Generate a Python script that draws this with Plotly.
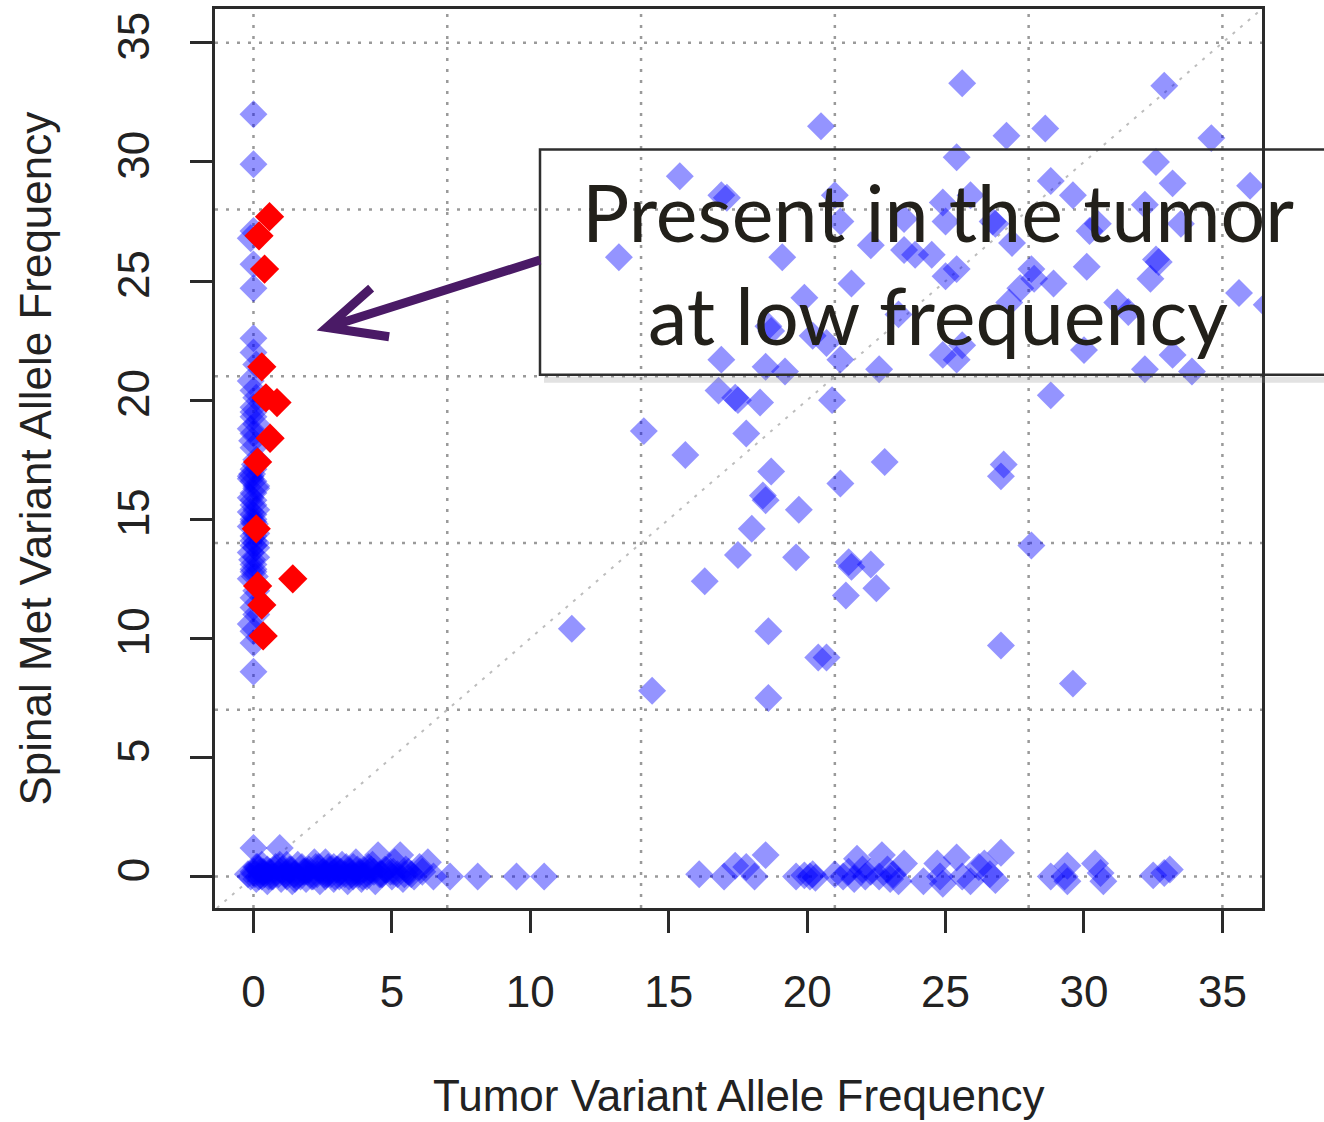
import plotly.graph_objects as go

# ---- data: variant allele frequencies (%) ----
# mutations shared by tumor and spinal metastasis
shared_tumor = [25.6, 32.9, 20.5, 27.2, 28.6, 34.6, 25.4, 32.6, 15.4, 33.2, 36.0, 28.8,
                16.9, 17.1, 21.0, 25.9, 29.6, 24.9, 32.2, 23.5, 21.2, 25.0, 26.7, 26.8,
                30.5, 30.2, 33.5, 27.4, 22.3, 23.5, 23.9, 24.5, 13.2, 19.1, 32.6, 32.7,
                30.1, 25.4, 28.1, 25.0, 28.2, 32.4, 21.6, 28.9, 27.7, 35.6, 19.9, 27.3,
                31.2, 36.6, 31.6, 23.3, 18.6, 18.7, 20.2, 20.7, 25.6, 30.0, 24.9, 33.2,
                16.9, 21.2, 25.4, 18.5, 22.6, 32.2, 19.2, 33.9,
                16.8, 17.4, 17.5, 18.3, 20.9, 28.8, 14.1, 17.8, 15.6, 22.8, 27.1, 27.0,
                18.7, 21.2, 18.4, 18.5, 19.7, 18.0, 28.1, 17.5, 19.6, 21.5, 21.6, 22.3,
                16.3, 22.5, 21.4, 11.5, 18.6, 27.0, 20.4, 20.7, 29.6, 14.4, 18.6]
shared_met = [33.3, 33.2, 31.5, 31.1, 31.4, 31.0, 30.2, 30.0, 29.4, 29.1, 29.0, 29.2,
              28.6, 28.5, 28.6, 28.6, 28.6, 28.3, 28.2, 27.6, 27.5, 27.5, 27.5, 27.4,
              27.4, 27.1, 27.4, 26.6, 26.5, 26.3, 26.1, 26.1, 26.0, 26.0, 25.9, 25.8,
              25.6, 25.5, 25.5, 25.2, 25.1, 25.1, 24.9, 24.9, 24.7, 24.5, 24.3, 24.1,
              24.1, 24.0, 23.7, 23.6, 23.1, 22.9, 22.7, 22.4, 22.3, 22.1, 21.9, 21.9,
              21.7, 21.7, 21.7, 21.4, 21.3, 21.3, 21.2, 21.2,
              20.4, 20.1, 20.0, 19.9, 20.0, 20.2, 18.7, 18.6, 17.7, 17.4, 17.3, 16.8,
              17.0, 16.5, 16.0, 15.8, 15.4, 14.6, 13.9, 13.5, 13.4, 13.2, 13.0, 13.1,
              12.4, 12.1, 11.8, 10.4, 10.3, 9.7, 9.2, 9.2, 8.1, 7.8, 7.5]

# tumor-only mutations (met VAF ~ 0)
tumor_only_tumor = [-0.1, 0.0, 0.1, 0.2, 0.3, 0.4, 0.5, 0.6, 0.7, 0.8, 0.9, 1.0, 1.1, 1.2,
                    1.3, 1.4, 1.5, 1.6, 1.7, 1.8, 1.9, 2.0, 2.1, 2.2, 2.3, 2.4, 2.5, 2.6,
                    2.7, 2.8, 2.9, 3.0, 3.1, 3.2, 3.3, 3.4, 3.5, 3.6, 3.7, 3.8, 3.9, 4.0,
                    4.1, 4.2, 4.4, 4.5, 4.6, 4.8, 5.0, 5.1, 5.3, 5.4, 5.6, 5.8, 6.0, 6.3,
                    6.5, 0.0, 0.95, 0.3, 1.2, 2.6, 0.5, 1.5, 2.9, 3.6, 4.3, 0.2, 0.1, 0.05,
                    -0.2, 0.15, 0.35, 0.55, 0.75, 0.95, 1.15, 1.35, 1.55, 1.75, 1.95, 2.15,
                    2.35, 2.55, 2.75, 2.95, 3.15, 3.35, 3.55, 3.75, 3.95, 4.15, 4.35, 4.55,
                    4.75, 4.95, 5.2, 5.5, 5.7, 6.1, 0.25, 0.65, 1.05, 1.45, 1.85, 2.25,
                    2.65, 3.05, 3.45, 3.85, 4.25, 4.65, 5.05, 5.45,
                    7.1, 8.1, 9.5, 10.5,
                    16.1, 17.0, 17.4, 17.8, 18.1, 18.5, 19.6, 19.9, 20.1, 20.3, 20.2, 21.3,
                    21.8, 22.1, 21.7, 22.7, 22.6, 23.1, 23.5, 23.3, 22.3, 24.2, 24.7, 24.8,
                    24.9, 25.4, 25.6, 25.9, 26.2, 26.4, 26.6, 27.0, 26.8, 28.8, 29.4, 29.3,
                    29.4, 30.4, 30.6, 30.7, 32.5, 32.9, 33.1, 21.0, 22.0, 23.0, 21.5, 22.9]
tumor_only_met = [0.0, 0.2, -0.1, 0.3, 0.0, 0.1, -0.2, 0.2, 0.0, 0.4, 0.1, -0.1, 0.2, 0.0,
                  0.3, -0.2, 0.1, 0.5, 0.0, 0.2, -0.1, 0.3, 0.0, 0.6, 0.1, -0.2, 0.2, 0.0,
                  0.4, 0.1, -0.1, 0.3, 0.0, 0.5, 0.1, -0.2, 0.2, 0.0, 0.6, 0.1, -0.1, 0.3,
                  0.0, 0.2, -0.2, 0.9, 0.1, 0.3, 0.0, 0.6, 0.9, -0.1, 0.2, 0.0, 0.4, 0.6,
                  0.0, 1.2, 1.2, 0.5, 0.5, 0.6, 0.3, -0.1, 0.4, 0.4, 0.5, 0.0, 0.4, 0.1,
                  0.1, 0.4, 0.2, 0.0, 0.3, 0.5, 0.1, 0.3, 0.0, 0.4, 0.2, 0.0,
                  0.4, 0.1, 0.3, 0.0, 0.2, 0.4, 0.1, 0.3, 0.0, 0.4, 0.2, 0.1,
                  0.3, 0.2, 0.1, 0.3, 0.1, 0.2, 0.2, 0.0, 0.3, 0.1, 0.2, 0.4,
                  0.1, 0.3, 0.0, 0.2, 0.3, 0.1, 0.2, 0.1,
                  0.0, 0.0, 0.0, 0.0,
                  0.1, 0.0, 0.45, 0.4, 0.0, 0.9, 0.0, 0.05, 0.0, -0.05, 0.1, 0.0,
                  0.75, 0.0, -0.1, 0.9, 0.0, 0.1, 0.55, -0.2, 0.2, -0.2, 0.55, 0.0,
                  -0.3, 0.8, 0.0, -0.2, 0.4, 0.55, 0.1, 1.0, -0.15, 0.0, 0.45, 0.0,
                  -0.2, 0.55, 0.15, -0.2, 0.05, 0.15, 0.3, 0.1, 0.3, -0.1, 0.2, 0.3]

# met-only mutations (tumor VAF ~ 0)
met_only_tumor = [0.0, 0.0, 0.0, -0.1, 0.0, 0.0, 0.0, 0.0, 0.1, -0.1, 0.0, 0.1, 0.0, 0.0,
                  0.1, -0.1, 0.0, 0.0, 0.1, 0.0, -0.1, 0.0, 0.1, 0.0, -0.1, 0.0, 0.1, 0.0,
                  0.0, -0.1, 0.1, 0.0, 0.0, -0.1, 0.1, 0.0, 0.0, -0.1, 0.1, 0.0, 0.0, 0.1,
                  -0.1, 0.0, 0.0, 0.0,
                  0.05, -0.05, 0.1, 0.0, -0.1, 0.05, 0.0, 0.1, -0.05, 0.0, 0.05, -0.1,
                  0.0, 0.1, 0.0, -0.05]
met_only_met = [32.0, 29.9, 27.1, 26.8, 25.7, 24.7, 22.6, 22.0, 21.5, 20.8, 20.4, 20.1,
                19.7, 19.3, 19.0, 18.8, 18.6, 18.0, 17.5, 17.1, 16.8, 16.6, 16.3, 16.1,
                15.9, 15.6, 15.4, 15.2, 14.9, 14.7, 14.4, 14.1, 13.9, 13.6, 13.4, 13.1,
                12.8, 12.5, 12.0, 11.7, 11.3, 11.0, 10.6, 10.3, 9.8, 8.6,
                17.3, 16.9, 16.4, 15.8, 15.3, 14.8, 14.3, 13.8, 13.3, 12.9, 12.6, 16.7,
                15.0, 14.0, 19.5, 18.3]

# met mutations detected in the tumor at low frequency
low_tumor = [0.58, 0.2, 0.4, 0.3, 0.45, 0.85, 0.6, 0.15, 0.1, 1.42, 0.15, 0.3, 0.35]
low_met = [27.7, 26.9, 25.5, 21.4, 20.1, 19.9, 18.4, 17.4, 14.6, 12.5, 12.2, 11.4, 10.1]

tick_vals = [0, 5, 10, 15, 20, 25, 30, 35]
grid_vals = [0, 7, 14, 21, 28, 35]
x_range = [-1.39, 36.43]
y_range = [-1.32, 36.42]

# ---- figure geometry (pixels) ----
W, H = 1324, 1122
ML, MR, MT, MB = 215, 62, 6, 214
PW, PH = W - ML - MR, H - MT - MB


def paper(px, py):
    return (px - ML) / PW, (H - MB - py) / PH


BLUE = "rgba(0,0,255,0.42)"
RED = "#ff0000"
MSIZE = 21.5
AX_COLOR = "#2a2a2a"
TXT = "#222222"
FONT = "Liberation Sans, Arial, sans-serif"

fig = go.Figure()

blue_x = shared_tumor + tumor_only_tumor + met_only_tumor
blue_y = shared_met + tumor_only_met + met_only_met
fig.add_trace(go.Scatter(
    x=blue_x, y=blue_y, mode="markers",
    marker=dict(symbol="diamond", size=MSIZE, color=BLUE, line=dict(width=0)),
    hoverinfo="x+y", showlegend=False))
fig.add_trace(go.Scatter(
    x=low_tumor, y=low_met, mode="markers",
    marker=dict(symbol="diamond", size=22.5, color=RED, line=dict(width=0)),
    hoverinfo="x+y", showlegend=False))

shapes = []
grid_line = dict(color="#9a9a9a", width=2.5, dash="3px,8px")
for g in grid_vals:
    shapes.append(dict(type="line", xref="x", yref="paper", x0=g, x1=g, y0=0, y1=1,
                       line=grid_line, layer="below"))
    shapes.append(dict(type="line", xref="paper", yref="y", x0=0, x1=1, y0=g, y1=g,
                       line=grid_line, layer="below"))
# identity line y = x
lo = max(x_range[0], y_range[0])
hi = min(x_range[1], y_range[1])
shapes.append(dict(type="line", xref="x", yref="y", x0=lo, y0=lo, x1=hi, y1=hi,
                   line=dict(color="#bdbdbd", width=2, dash="3px,7px"), layer="below"))

# callout box with soft shadow
bx0, by0 = paper(540, 373)
bx1, by1 = paper(1345, 147)
sx0, sy0 = paper(544, 378)
sx1, _ = paper(1345, 378)
shapes.append(dict(type="line", xref="paper", yref="paper", x0=sx0, x1=sx1, y0=sy0, y1=sy0,
                   line=dict(color="rgba(140,140,140,0.25)", width=6)))
shapes.append(dict(type="rect", xref="paper", yref="paper", x0=bx0, y0=by0, x1=bx1, y1=by1,
                   line=dict(color="#2e2e2e", width=2.5), fillcolor="rgba(0,0,0,0)"))

# arrow pointing at the red cluster
tail = (10.35, 25.88)
tip = (2.65, 23.05)
barb_a = (4.25, 24.7)
barb_b = (4.9, 22.66)
arrow_path = (f"M {tail[0]},{tail[1]} L {tip[0]},{tip[1]} "
              f"M {barb_a[0]},{barb_a[1]} L {tip[0]},{tip[1]} L {barb_b[0]},{barb_b[1]}")
shapes.append(dict(type="path", xref="x", yref="y", path=arrow_path,
                   line=dict(color="#4a1a66", width=9)))

ax, ay = paper(938, 261)
tx, ty = paper(738, 1096)
yx, yy = paper(35, 457)
annotations = [
    dict(xref="paper", yref="paper", x=ax, y=ay, xanchor="center", yanchor="middle",
         text="Present in the tumor<br>at low frequency", showarrow=False,
         font=dict(family="Lato, Open Sans, sans-serif", size=79, color="#22201a")),
    dict(xref="paper", yref="paper", x=tx, y=ty, xanchor="center", yanchor="middle",
         text="Tumor Variant Allele Frequency", showarrow=False,
         font=dict(family=FONT, size=44, color=TXT)),
    dict(xref="paper", yref="paper", x=yx, y=yy, xanchor="center", yanchor="middle",
         text="Spinal Met Variant Allele Frequency", showarrow=False, textangle=-90,
         font=dict(family=FONT, size=44, color=TXT)),
]

axis_common = dict(
    showgrid=False, zeroline=False, showline=True, mirror=True,
    linecolor=AX_COLOR, linewidth=3, ticks="outside", ticklen=22, tickwidth=3,
    tickcolor=AX_COLOR, tickvals=tick_vals, ticktext=[str(v) for v in tick_vals],
    tickfont=dict(family=FONT, size=44, color=TXT),
)

fig.update_layout(
    width=W, height=H, margin=dict(l=ML, r=MR, t=MT, b=MB),
    paper_bgcolor="white", plot_bgcolor="white",
    xaxis=dict(range=x_range, ticklabelstandoff=21, **axis_common),
    yaxis=dict(range=y_range, tickangle=-90, ticklabelstandoff=23, **axis_common),
    shapes=shapes, annotations=annotations,
)

fig.write_html("out.html")
